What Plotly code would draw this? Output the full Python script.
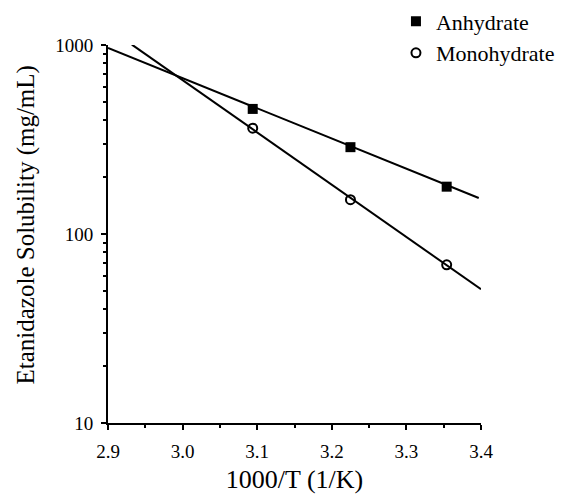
import plotly.graph_objects as go

# Data
inv_T = [3.094, 3.225, 3.354]
anhydrate = [459, 288, 178]
monohydrate = [363, 152, 68.7]

# Fitted lines (endpoints)
anh_fit_x = [2.9, 3.397]
anh_fit_y = [965, 155]
mono_fit_x = [2.932, 3.4]
mono_fit_y = [1005, 51]

x_ticks = [2.9, 3.0, 3.1, 3.2, 3.3, 3.4]
x_ticklabels = ["2.9", "3.0", "3.1", "3.2", "3.3", "3.4"]
x_minor = [2.95, 3.05, 3.15, 3.25, 3.35]
y_ticks = [10, 100, 1000]
y_ticklabels = ["10", "100", "1000"]
y_minor = [20, 30, 40, 50, 60, 70, 80, 90, 200, 300, 400, 500, 600, 700, 800, 900]

FONT = "Liberation Serif"

fig = go.Figure()
fig.add_trace(go.Scatter(x=anh_fit_x, y=anh_fit_y, mode="lines",
                         line=dict(color="black", width=2), showlegend=False, hoverinfo="skip"))
fig.add_trace(go.Scatter(x=mono_fit_x, y=mono_fit_y, mode="lines",
                         line=dict(color="black", width=2), showlegend=False, hoverinfo="skip"))
fig.add_trace(go.Scatter(x=inv_T, y=anhydrate, mode="markers", name="Anhydrate",
                         marker=dict(symbol="square", size=10, color="black",
                                     line=dict(color="black", width=0))))
fig.add_trace(go.Scatter(x=inv_T, y=monohydrate, mode="markers", name="Monohydrate",
                         marker=dict(symbol="circle-open", size=9, color="black",
                                     line=dict(color="black", width=2))))

fig.update_layout(
    width=564, height=486,
    margin=dict(l=100, r=91, t=37, b=71, autoexpand=False),
    paper_bgcolor="white", plot_bgcolor="white",
    font=dict(family=FONT, color="black", size=18),
    legend=dict(x=0.772, y=1.118, xanchor="left", yanchor="top",
                font=dict(family=FONT, size=22, color="black"),
                bgcolor="rgba(0,0,0,0)", itemwidth=30, tracegroupgap=0),
    xaxis=dict(
        range=[2.9, 3.4], showgrid=False, zeroline=False, automargin=False,
        showline=True, linecolor="black", linewidth=2,
        ticks="outside", ticklen=5, tickwidth=2, tickcolor="black",
        ticklabelstandoff=5,
        tickmode="array", tickvals=x_ticks, ticktext=x_ticklabels,
        tickfont=dict(family=FONT, size=19),
        minor=dict(tickmode="array", tickvals=x_minor, ticks="outside",
                   ticklen=3, tickwidth=1.5, tickcolor="black"),
        title=dict(text="1000/T (1/K)", font=dict(family=FONT, size=26), standoff=11),
    ),
    yaxis=dict(
        type="log", range=[1, 3], showgrid=False, zeroline=False, automargin=False,
        showline=True, linecolor="black", linewidth=2,
        ticks="outside", ticklen=5, tickwidth=2, tickcolor="black",
        ticklabelstandoff=4,
        tickmode="array", tickvals=y_ticks, ticktext=y_ticklabels,
        tickfont=dict(family=FONT, size=19),
        minor=dict(tickmode="array", tickvals=y_minor, ticks="outside",
                   ticklen=3, tickwidth=1.5, tickcolor="black"),
    ),
    annotations=[dict(
        text="Etanidazole Solubility (mg/mL)", textangle=-90,
        xref="paper", yref="paper", x=-0.221, y=0.524,
        xanchor="center", yanchor="middle", showarrow=False,
        font=dict(family=FONT, size=25, color="black"),
    )],
)

fig.write_html("out.html")
